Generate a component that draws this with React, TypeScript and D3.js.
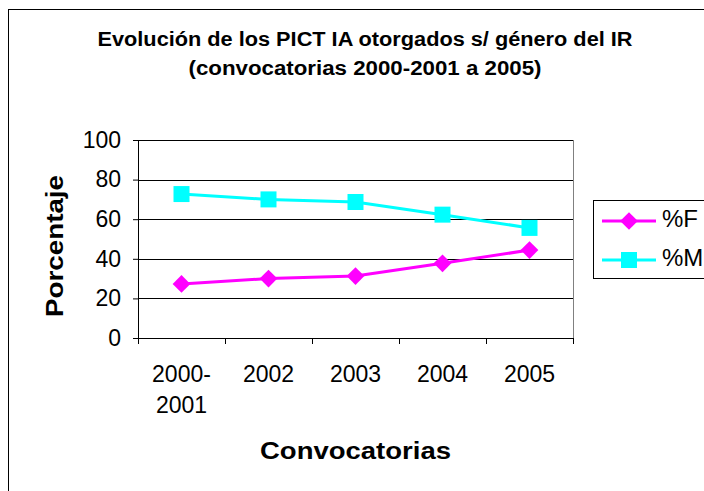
import { useEffect, useRef } from "react";
import * as d3 from "d3";

const categories = ["2000-2001", "2002", "2003", "2004", "2005"];
const categoryLines = [["2000-", "2001"], ["2002"], ["2003"], ["2004"], ["2005"]];
const femaleValues = [27.3, 30, 31.3, 37.7, 44.4];
const maleValues = [72.7, 70, 68.7, 62.3, 55.6];
const yTicks = [0, 20, 40, 60, 80, 100];
const seriesNames = ["%F", "%M"];
const seriesColors = ["#FF00FF", "#00FFFF"];

export default function App() {
  const ref = useRef<SVGSVGElement>(null);

  useEffect(() => {
    const svg = d3.select(ref.current);
    svg.selectAll("*").remove();

    const width = 704;
    const height = 491;
    const margin = { top: 140, right: 131, bottom: 153, left: 138 };
    const innerW = width - margin.left - margin.right;
    const innerH = height - margin.top - margin.bottom;

    svg.attr("width", width).attr("height", height);
    svg.append("rect").attr("width", width).attr("height", height).attr("fill", "#fff");

    // chart area border (runs past the right/bottom edge)
    svg.append("rect")
      .attr("x", 8.5).attr("y", 9.5)
      .attr("width", 714).attr("height", 500)
      .attr("fill", "none").attr("stroke", "#000").attr("stroke-width", 1);

    const font = "Arial, 'Liberation Sans', sans-serif";

    // title, stretched to the widths in the reference
    const titleLines = [
      { text: "Evolución de los PICT IA otorgados s/ género del IR", y: 46, len: 535 },
      { text: "(convocatorias 2000-2001 a 2005)", y: 75, len: 353 },
    ];
    titleLines.forEach((t) => {
      svg.append("text")
        .attr("x", 365).attr("y", t.y)
        .attr("text-anchor", "middle")
        .attr("textLength", t.len).attr("lengthAdjust", "spacingAndGlyphs")
        .style("font-family", font).style("font-weight", "bold").style("font-size", "20px")
        .text(t.text);
    });

    const x = d3.scaleBand().domain(categories).range([0, innerW]);
    const y = d3.scaleLinear().domain([0, 100]).range([innerH, 0]);

    const g = svg.append("g").attr("transform", `translate(${margin.left},${margin.top})`);

    // gridlines
    g.selectAll(".grid")
      .data(yTicks.filter((t) => t > 0))
      .enter()
      .append("line")
      .attr("x1", 0).attr("x2", innerW)
      .attr("y1", (d) => Math.round(y(d)) + 0.5).attr("y2", (d) => Math.round(y(d)) + 0.5)
      .attr("stroke", "#000").attr("stroke-width", 1);

    // plot area right border
    g.append("line")
      .attr("x1", innerW + 0.5).attr("x2", innerW + 0.5)
      .attr("y1", 0).attr("y2", innerH)
      .attr("stroke", "#808080").attr("stroke-width", 1);

    // y axis
    const yAxis = g.append("g").call(d3.axisLeft(y).tickValues(yTicks).tickSize(5).tickPadding(12));
    yAxis.select(".domain").attr("stroke", "#000");
    yAxis.selectAll("text").style("font-family", font).style("font-size", "23px").attr("fill", "#000");

    // x axis
    const xAxis = g.append("g").attr("transform", `translate(0,${innerH})`);
    xAxis.append("line").attr("x1", 0).attr("x2", innerW).attr("y1", 0.5).attr("y2", 0.5).attr("stroke", "#000");
    const boundaries = [0, ...categories.map((c) => (x(c) as number) + x.bandwidth())];
    xAxis.selectAll(".xtick")
      .data(boundaries)
      .enter()
      .append("line")
      .attr("x1", (d) => Math.round(d) + 0.5).attr("x2", (d) => Math.round(d) + 0.5)
      .attr("y1", 0).attr("y2", 6)
      .attr("stroke", "#000");
    categories.forEach((c, i) => {
      const t = xAxis.append("text")
        .attr("text-anchor", "middle")
        .style("font-family", font).style("font-size", "23px").attr("fill", "#000");
      categoryLines[i].forEach((line, j) => {
        t.append("tspan")
          .attr("x", (x(c) as number) + x.bandwidth() / 2)
          .attr("y", 44 + j * 31)
          .text(line);
      });
    });

    // axis titles (glyphs are wide in the reference)
    svg.append("text")
      .attr("x", margin.left + innerW / 2).attr("y", 459)
      .attr("text-anchor", "middle")
      .attr("textLength", 191).attr("lengthAdjust", "spacingAndGlyphs")
      .style("font-family", font).style("font-weight", "bold").style("font-size", "23px")
      .text("Convocatorias");
    svg.append("text")
      .attr("transform", `translate(63,246) rotate(-90)`)
      .attr("text-anchor", "middle")
      .attr("textLength", 142).attr("lengthAdjust", "spacingAndGlyphs")
      .style("font-family", font).style("font-weight", "bold").style("font-size", "23px")
      .text("Porcentaje");

    const cx = (c: string) => (x(c) as number) + x.bandwidth() / 2;
    const line = d3.line<number>().x((_, i) => cx(categories[i])).y((d) => y(d));
    const allSeries = [femaleValues, maleValues];

    allSeries.forEach((vals, si) => {
      g.append("path")
        .datum(vals)
        .attr("d", line)
        .attr("fill", "none")
        .attr("stroke", seriesColors[si])
        .attr("stroke-width", 3);
    });

    const diamond = d3.symbol().type(d3.symbolDiamond2).size(200);
    const square = d3.symbol().type(d3.symbolSquare).size(256);

    allSeries.forEach((vals, si) => {
      g.selectAll(`.m${si}`)
        .data(vals)
        .enter()
        .append("path")
        .attr("d", si === 0 ? diamond() : square())
        .attr("transform", (d, i) => `translate(${cx(categories[i])},${y(d)})`)
        .attr("fill", seriesColors[si]);
    });

    // legend
    const lg = svg.append("g").attr("transform", "translate(593,200)");
    lg.append("rect")
      .attr("x", 0.5).attr("y", 0.5).attr("width", 130).attr("height", 78)
      .attr("fill", "#fff").attr("stroke", "#000");
    seriesNames.forEach((name, i) => {
      const yy = 21 + i * 39;
      lg.append("line")
        .attr("x1", 9).attr("x2", 63).attr("y1", yy).attr("y2", yy)
        .attr("stroke", seriesColors[i]).attr("stroke-width", 3);
      lg.append("path")
        .attr("d", i === 0 ? diamond() : square())
        .attr("transform", `translate(36,${yy})`)
        .attr("fill", seriesColors[i]);
      lg.append("text")
        .attr("x", 69).attr("y", yy + 6)
        .style("font-family", font).style("font-size", "24px")
        .text(name);
    });
  }, []);

  return <svg ref={ref} style={{ display: "block", position: "absolute", left: 0, top: 0 }} />;
}
